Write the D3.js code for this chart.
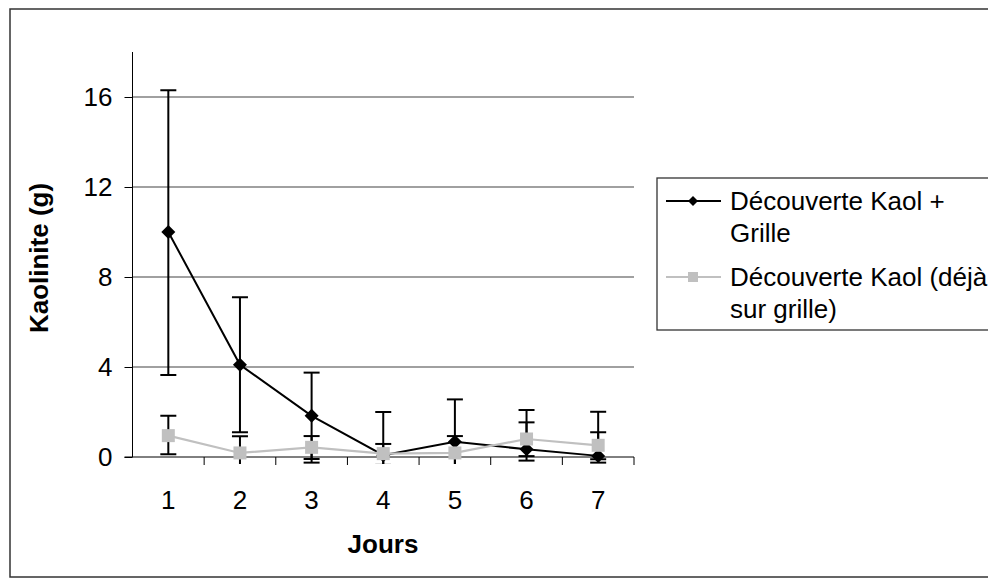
<!DOCTYPE html>
<html><head><meta charset="utf-8">
<script src="https://cdn.jsdelivr.net/npm/d3@7"></script>
<style>body{margin:0;background:#fff;overflow:hidden}svg{display:block}text{font-family:"Liberation Sans",Arial,sans-serif}</style>
</head><body><svg id="c" width="988" height="585"></svg>
<script>
const categories = ["1","2","3","4","5","6","7"];
const yTicks = [0,4,8,12,16];
const seriesNames = ["Découverte Kaol + Grille","Découverte Kaol (déjà sur grille)"];
const kaolGrille = [10.0, 4.1, 1.83, 0.08, 0.68, 0.34, 0.05];
const kaolGrilleHigh = [16.3, 7.1, 3.75, 2.0, 2.56, 2.09, 2.01];
const kaolGrilleLow = [3.65, 1.1, -0.09, -1.8, -1.2, -0.16, -0.25];
const kaolDeja = [0.95, 0.18, 0.43, 0.15, 0.18, 0.8, 0.52];
const kaolDejaHigh = [1.83, 0.92, 0.93, 0.58, 0.93, 1.54, 1.1];
const kaolDejaLow = [0.12, -0.6, -0.25, -0.35, -0.6, 0.04, -0.1];

const FS = 26;
const svg = d3.select("#c");
const pLeft = 132.5, pRight = 634, pTop = 52, pBottom = 457;
const x = d3.scaleBand().domain(categories).range([pLeft, pRight]);
const y = d3.scaleLinear().domain([0, 18]).range([pBottom, pTop]);

// outer border
svg.append("rect").attr("x",10).attr("y",9).attr("width",990).attr("height",568)
  .attr("fill","none").attr("stroke","#333").attr("stroke-width",1.5);

// gridlines
svg.append("g").selectAll("line").data(yTicks.filter(d=>d>0)).join("line")
  .attr("x1",pLeft).attr("x2",pRight).attr("y1",d=>y(d)).attr("y2",d=>y(d))
  .attr("stroke","#808080").attr("stroke-width",1.3);

// clip for error bars
svg.append("clipPath").attr("id","clip").append("rect")
  .attr("x",pLeft).attr("y",pTop-10).attr("width",pRight-pLeft).attr("height",pBottom-pTop+17);

// y axis
const yAxis = svg.append("g").attr("transform",`translate(${pLeft},0)`)
  .call(d3.axisLeft(y).tickValues(yTicks).tickSize(8).tickPadding(12));
yAxis.select(".domain").attr("d",`M0,${pTop}V${pBottom}`).attr("stroke","#000");
yAxis.selectAll(".tick line").attr("stroke","#000");
yAxis.selectAll("text").attr("font-size",FS).attr("fill","#000");

// x axis
const xAxis = svg.append("g").attr("transform",`translate(0,${pBottom})`)
  .call(d3.axisBottom(x).tickSize(0).tickPadding(34));
xAxis.select(".domain").attr("d",`M${pLeft-8},0H${pRight}`).attr("stroke","#000");
xAxis.selectAll("text").attr("font-size",FS).attr("fill","#000");
svg.append("g").selectAll("line").data(categories).join("line")
  .attr("x1",(d,i)=>pLeft + x.step()*(i+1)).attr("x2",(d,i)=>pLeft + x.step()*(i+1))
  .attr("y1",pBottom).attr("y2",pBottom+8).attr("stroke","#000");

// axis titles
svg.append("text").attr("x",383).attr("y",553).attr("text-anchor","middle")
  .attr("font-size",FS).attr("font-weight","bold").text("Jours");
svg.append("text").attr("transform","translate(48,258) rotate(-90)").attr("text-anchor","middle")
  .attr("font-size",FS).attr("font-weight","bold").text("Kaolinite (g)");

const cx = d => x(d) + x.bandwidth()/2;
const cap = 8;
function drawSeries(vals, hi, lo, color, lineW, markerFn){
  const g = svg.append("g");
  const eb = g.append("g").attr("clip-path","url(#clip)").attr("stroke","#000").attr("stroke-width",2);
  categories.forEach((c,i)=>{
    const xx = cx(c);
    eb.append("line").attr("x1",xx).attr("x2",xx).attr("y1",y(lo[i])).attr("y2",y(hi[i]));
    eb.append("line").attr("x1",xx-cap).attr("x2",xx+cap).attr("y1",y(hi[i])).attr("y2",y(hi[i]));
    eb.append("line").attr("x1",xx-cap).attr("x2",xx+cap).attr("y1",y(lo[i])).attr("y2",y(lo[i]));
  });
  g.append("path").datum(vals).attr("fill","none").attr("stroke",color).attr("stroke-width",lineW)
    .attr("d",d3.line().x((d,i)=>cx(categories[i])).y(d=>y(d)));
  markerFn(g, vals);
}
const diamond = (g, vals) => g.selectAll("path.m").data(vals).join("path").attr("class","m")
  .attr("transform",(d,i)=>`translate(${cx(categories[i])},${y(d)})`)
  .attr("d","M0,-7L7,0L0,7L-7,0Z").attr("fill","#000");
const square = (g, vals) => g.selectAll("rect.m").data(vals).join("rect").attr("class","m")
  .attr("x",(d,i)=>cx(categories[i])-6.5).attr("y",d=>y(d)-6.5).attr("width",13).attr("height",13)
  .attr("fill","#c0c0c0");

drawSeries(kaolGrille, kaolGrilleHigh, kaolGrilleLow, "#000", 2, diamond);
drawSeries(kaolDeja, kaolDejaHigh, kaolDejaLow, "#c0c0c0", 2.2, square);

// legend
const lg = svg.append("g");
lg.append("rect").attr("x",657).attr("y",178).attr("width",340).attr("height",152)
  .attr("fill","#fff").attr("stroke","#333").attr("stroke-width",1.3);
const legendRows = [
  {lines:["Découverte Kaol +","Grille"], color:"#000", w:1.8, y:201, m:"d"},
  {lines:["Découverte Kaol (déjà","sur grille)"], color:"#c0c0c0", w:1.8, y:277, m:"s"}
];
legendRows.forEach(r=>{
  lg.append("line").attr("x1",666).attr("x2",721).attr("y1",r.y).attr("y2",r.y)
    .attr("stroke",r.color).attr("stroke-width",r.w);
  if(r.m==="d") lg.append("path").attr("transform",`translate(693,${r.y})`).attr("d","M0,-5L5,0L0,5L-5,0Z").attr("fill","#000");
  else lg.append("rect").attr("x",688).attr("y",r.y-5).attr("width",10).attr("height",10).attr("fill","#c0c0c0");
  const t = lg.append("text").attr("x",730).attr("y",r.y+9).attr("font-size",FS);
  r.lines.forEach((l,k)=>t.append("tspan").attr("x",730).attr("dy",k?32:0).text(l));
});
</script></body></html>
